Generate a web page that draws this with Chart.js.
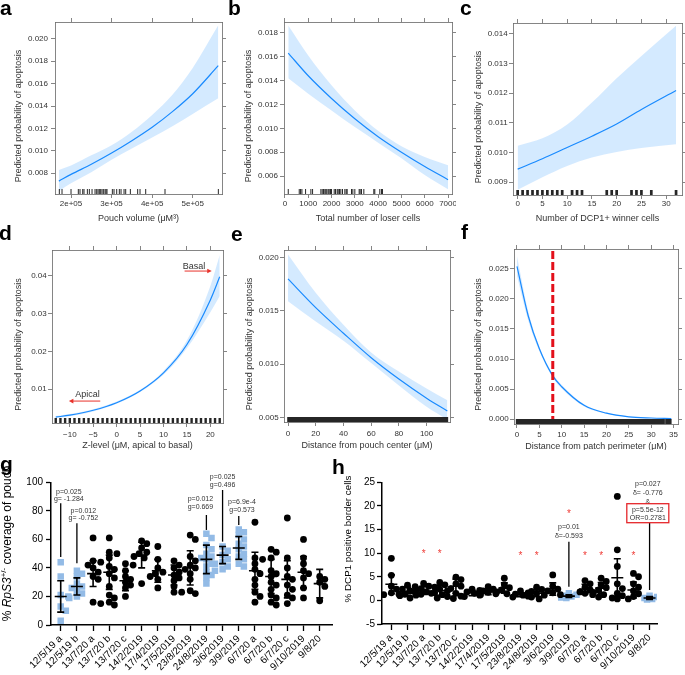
<!DOCTYPE html>
<html><head><meta charset="utf-8">
<script src="https://cdn.jsdelivr.net/npm/chart.js@4.4.1/dist/chart.umd.min.js"></script>
<style>
html,body{margin:0;padding:0;background:#fff;}
body{width:685px;height:675px;position:relative;overflow:hidden;font-family:"Liberation Sans",Arial,sans-serif;}
canvas.pn{position:absolute;display:block;}
.lt{position:absolute;z-index:5;font:bold 21px "Liberation Sans",Arial,sans-serif;line-height:21px;color:#000;}
</style></head><body>
<canvas class="pn" id="cA" style="left:0;top:0" width="228" height="225"></canvas>
<canvas class="pn" id="cB" style="left:228px;top:0" width="228" height="225"></canvas>
<canvas class="pn" id="cC" style="left:456px;top:0" width="229" height="225"></canvas>
<canvas class="pn" id="cD" style="left:0;top:225px" width="228" height="225"></canvas>
<canvas class="pn" id="cE" style="left:228px;top:225px" width="228" height="225"></canvas>
<canvas class="pn" id="cF" style="left:456px;top:225px" width="229" height="225"></canvas>
<canvas class="pn" id="cG" style="left:0;top:450px" width="340" height="225"></canvas>
<canvas class="pn" id="cH" style="left:340px;top:450px" width="345" height="225"></canvas>
<div class="lt" style="left:0px;top:-3px">a</div>
<div class="lt" style="left:228px;top:-3px">b</div>
<div class="lt" style="left:460px;top:-3px">c</div>
<div class="lt" style="left:-1px;top:222px">d</div>
<div class="lt" style="left:231px;top:223px">e</div>
<div class="lt" style="left:461px;top:221px">f</div>
<div class="lt" style="left:0px;top:453px">g</div>
<div class="lt" style="left:332px;top:456px">h</div>
<script>
const FONT = '"Liberation Sans", Arial, sans-serif';
Chart.defaults.font.family = FONT;
Chart.defaults.color = '#333';

const Y_TITLE = 'Predicted probability of apoptosis';

// ---------- panel a ----------
const A_X   = [170000, 200000, 250000, 300000, 350000, 400000, 450000, 500000, 563000];
const A_FIT = [0.0073, 0.0079, 0.0088, 0.0098, 0.0109, 0.0121, 0.0135, 0.0151, 0.0176];
const A_LO  = [0.0064, 0.0071, 0.0081, 0.0092, 0.0102, 0.0112, 0.0122, 0.0133, 0.0147];
const A_HI  = [0.0083, 0.0087, 0.0096, 0.0105, 0.0117, 0.0132, 0.0150, 0.0174, 0.0212];
const A_RUG = [171200, 177800, 200000, 218000, 222200, 228800, 232000, 240300, 245200, 251800, 259200, 263300, 266600, 269800, 273100, 276400, 279700, 283800, 286300, 288700, 301900, 306000, 312600, 319100, 323300, 330700, 334800, 346300, 364300, 370100, 384100, 431700, 563200];
const A_XTICKS = [200000, 300000, 400000, 500000];
const A_YTICKS = [0.008, 0.010, 0.012, 0.014, 0.016, 0.018, 0.020];

// ---------- panel b ----------
const B_X   = [143, 1000, 2000, 3000, 4000, 5000, 6000, 7000];
const B_FIT = [0.0163, 0.0144, 0.0125, 0.0108, 0.0093, 0.0080, 0.0068, 0.0057];
const B_LO  = [0.0142, 0.0129, 0.0115, 0.0101, 0.0088, 0.0075, 0.0061, 0.0049];
const B_HI  = [0.0186, 0.0161, 0.0136, 0.0115, 0.0098, 0.0085, 0.0076, 0.0069];
const B_RUG = [143, 614, 671, 729, 886, 1114, 1186, 1543, 1600, 1657, 1714, 1757, 1800, 1857, 1900, 1957, 2000, 2114, 2171, 2243, 2286, 2343, 2400, 2471, 2571, 2629, 2671, 2857, 2914, 3000, 3186, 3229, 3286, 3386, 3814, 3857, 4071, 4143, 4186];
const B_XTICKS = [0, 1000, 2000, 3000, 4000, 5000, 6000, 7000];
const B_YTICKS = [0.006, 0.008, 0.010, 0.012, 0.014, 0.016, 0.018];

// ---------- panel c ----------
const C_X   = [0, 5, 10, 15, 20, 25, 32];
const C_FIT = [0.00944, 0.00979, 0.01017, 0.01055, 0.01096, 0.01145, 0.01209];
const C_LO  = [0.00875, 0.00917, 0.00955, 0.00983, 0.01002, 0.01015, 0.01028];
const C_HI  = [0.01023, 0.01048, 0.01094, 0.01168, 0.01250, 0.01325, 0.01427];
const C_RUG = [0, 1, 2, 3, 4, 5, 6, 7, 8, 9, 11, 12, 13, 18, 19, 20, 23, 24, 25, 27, 32];
const C_XTICKS = [0, 5, 10, 15, 20, 25, 30];
const C_YTICKS = [0.009, 0.010, 0.011, 0.012, 0.013, 0.014];

// ---------- panel d ----------
const D_X   = [-13, -10, -5, 0, 5, 10, 15, 20, 22];
const D_FIT = [0.0026, 0.0031, 0.0044, 0.0064, 0.0095, 0.0143, 0.0218, 0.0336, 0.0397];
const D_LO  = [0.0023, 0.0028, 0.0041, 0.0061, 0.0092, 0.0138, 0.0208, 0.0303, 0.0346];
const D_HI  = [0.0029, 0.0034, 0.0047, 0.0067, 0.0098, 0.0148, 0.0229, 0.0373, 0.0455];
const D_RUG = [-13, -12, -11, -10, -9, -8, -7, -6, -5, -4, -3, -2, -1, 0, 1, 2, 3, 4, 5, 6, 7, 8, 9, 10, 11, 12, 13, 14, 15, 16, 17, 18, 19, 20, 21, 22];
const D_XTICKS = [-10, -5, 0, 5, 10, 15, 20];
const D_YTICKS = [0.01, 0.02, 0.03, 0.04];
const D_LABELS = [
  {text: 'Basal',  tx: 16.5, ty: 0.04255, from: 14.5, to: 20.3,  ay: 0.04123},
  {text: 'Apical', tx: -6.2, ty: 0.0085,  from: -3.5, to: -10.2, ay: 0.00683}
];

// ---------- panel e ----------
const E_X   = [0, 20, 40, 60, 80, 100, 115];
const E_FIT = [0.0180, 0.0153, 0.0129, 0.0106, 0.0086, 0.0068, 0.0056];
const E_LO  = [0.0159, 0.0140, 0.0122, 0.0101, 0.0080, 0.0060, 0.0048];
const E_HI  = [0.0203, 0.0167, 0.0137, 0.0111, 0.0093, 0.0077, 0.0066];
const E_RUG = [0,1,2,3,4,5,6,7,8,9,10,11,12,13,14,15,16,17,18,19,20,21,22,23,24,25,26,27,28,29,30,31,32,33,34,35,36,37,38,39,40,41,42,43,44,45,46,47,48,49,50,51,52,53,54,55,56,57,58,59,60,61,62,63,64,65,66,67,68,69,70,71,72,73,74,75,76,77,78,79,80,81,82,83,84,85,86,87,88,89,90,91,92,93,94,95,96,97,98,99,100,101,102,103,104,105,106,107,108,109,110,111,112,113,114,115];
const E_XTICKS = [0, 20, 40, 60, 80, 100];
const E_YTICKS = [0.005, 0.010, 0.015, 0.020];

// ---------- panel f ----------
const F_X   = [0, 2.5, 5, 8, 10, 15, 20, 25, 30, 34.5];
const F_FIT = [0.0254, 0.0172, 0.0117, 0.0072, 0.0054, 0.0023, 0.0010, 0.0004, 0.0002, 0.0001];
const F_LO  = [0.0238, 0.0164, 0.0113, 0.0069, 0.0051, 0.0021, 0.0009, 0.00035, 0.00015, 0.00008];
const F_HI  = [0.0271, 0.0180, 0.0121, 0.0075, 0.0057, 0.0025, 0.0011, 0.0005, 0.00025, 0.00012];
const F_RUG = [0,0.5,1,1.5,2,2.5,3,3.5,4,4.5,5,5.5,6,6.5,7,7.5,8,8.5,9,9.5,10,10.5,11,11.5,12,12.5,13,13.5,14,14.5,15,15.5,16,16.5,17,17.5,18,18.5,19,19.5,20,20.5,21,21.5,22,22.5,23,23.5,24,24.5,25,25.5,26,26.5,27,27.5,28,28.5,29,29.5,30,30.4,30.8,31.1,31.5,31.9,32.3,32.8,33.4,33.9,34.3];
const F_XTICKS = [0, 5, 10, 15, 20, 25, 30, 35];
const F_YTICKS = [0, 0.005, 0.010, 0.015, 0.020, 0.025];
const F_CUTOFF = 8;

// ---------- panels g / h ----------
const CATS = ['12/5/19 a','12/5/19 b','13/7/20 a','13/7/20 b','13/7/20 c','14/2/2019','17/4/2019','17/5/2019','23/8/2019','24/8/2019','3/6/2019','3/9/2019','6/7/20 a','6/7/20 b','6/7/20 c','9/10/2019','9/8/20'];

const G_VALUES = [
  [44, 34, 21, 20, 13, 10, 3],
  [38, 36, 34, 29, 27, 26, 24, 22, 20, 19],
  [61, 45, 44, 42, 40, 37, 34, 32, 16, 15],
  [61, 51, 50, 47, 41, 39, 36, 33, 27, 21, 19, 16, 14],
  [43, 42, 38, 34, 32, 30, 28, 26, 20],
  [59, 57, 54, 51, 50, 48, 47, 29],
  [55, 46, 40, 37, 36, 34, 32, 26],
  [45, 42, 40, 37, 35, 33, 31, 27, 23, 23],
  [63, 60, 48, 45, 42, 40, 39, 36, 32, 24, 22],
  [64, 61, 56, 53, 50, 48, 47, 46, 43, 41, 37, 35, 33, 29],
  [55, 52, 49, 46, 44, 43, 41, 39, 38],
  [67, 65, 63, 60, 57, 55, 53, 50, 48, 46, 43, 41],
  [72, 47, 46, 43, 39, 36, 32, 28, 23, 20, 16],
  [53, 51, 47, 38, 36, 34, 30, 28, 25, 21, 19, 16, 14],
  [75, 47, 40, 34, 32, 28, 25, 21, 19, 15],
  [60, 47, 43, 38, 36, 33, 26, 19],
  [34, 32, 30, 27, 17]
];
const G_MEAN = [20, 27, 36, 37, 31, 49, 38, 35, 40, 46, 49, 54, 38, 34, 32, 37, 29];
const G_SD   = [11, 6, 9, 12, 7, 9, 8, 7, 12, 10, 6, 8, 13, 12, 13, 11, 10];
const G_BLUE = [0, 1, 9, 10, 11];
const G_YTICKS = [0, 20, 40, 60, 80, 100];
const G_NOTES = [
  {cat: 0,  text: ['p=0.025', 'g= -1.284'], textY: [93.4, 88.1],  dx: 0.5,   from: 85.3, to: 47.7},
  {cat: 1,  text: ['p=0.012', 'g= -0.752'], textY: [80.1, 74.8],  dx: 0.4,   from: 71.3, to: 43.2},
  {cat: 9,  text: ['p=0.012', 'g=0.669'],   textY: [88.1, 82.5],  dx: -0.37, from: 77.1, to: 66.6},
  {cat: 10, text: ['p=0.025', 'g=0.496'],   textY: [103.5, 98.1], dx: 0,     from: 94.6, to: 58.4},
  {cat: 11, text: ['p=6.9e-4', 'g=0.573'],  textY: [86.4, 80.6],  dx: 0.2,   from: 76.4, to: 70.1}
];

const H_VALUES = [
  [8.9, 5.3, 3.0, 2.4, 1.6, 1.3, 1.2],
  [3.2, 2.9, 2.4, 2.0, 1.7, 1.3, 1.0, 0.5],
  [3.6, 3.0, 2.5, 2.2, 1.8, 1.5, 1.3, 1.1],
  [3.8, 3.3, 2.8, 2.4, 2.0, 1.6, 1.2, 0.8, 0.5],
  [4.9, 4.4, 3.5, 3.0, 2.5, 1.5, 0.9, 0.4],
  [2.4, 2.1, 1.8, 1.5, 1.1, 0.8],
  [2.9, 2.4, 2.0, 1.7, 1.4, 1.2],
  [4.7, 3.3, 2.7, 2.2, 1.8, 1.4],
  [2.0, 1.6, 1.3, 1.1, 0.9, 0.7],
  [2.8, 2.3, 1.9, 1.5, 1.1, 0.7, 0.3],
  [5.4, 3.0, 2.4, 2.0, 1.6, 1.2],
  [1.5, 1.2, 1.0, 0.8, 0.6, 0.5],
  [4.2, 3.5, 2.8, 2.2, 1.8, 1.5, 1.2],
  [4.7, 4.0, 3.3, 2.7, 2.2, 1.7, 1.2, 0.7],
  [22.0, 10.7, 7.2, 3.5, 2.5, 1.5, 1.0, 0.5, 0.3],
  [5.7, 5.0, 3.5, 2.8, 2.0, 1.4, 0.8, 0.3],
  [1.0, 0.7, 0.5, 0.3, 0.2]
];
const H_MEAN = [3.4, 1.9, 2.1, 2.1, 3.0, 1.6, 1.8, 2.6, 1.2, 1.5, 2.4, 0.9, 2.4, 2.6, 4.8, 2.2, 0.5];
const H_SD   = [2.0, 0.9, 0.8, 1.0, 1.5, 0.6, 0.6, 1.1, 0.4, 0.7, 1.3, 0.3, 1.0, 1.2, 4.0, 1.7, 0.3];
const H_BLUE = [11, 16];
const H_YTICKS = [-5, 0, 5, 10, 15, 20, 25];
const H_NOTES = [
  {cat: 11, text: ['p=0.01', 'δ=-0.593'], textY: [15.5, 13.6], dx: 0, from: 12.4, to: 2.9},
  {cat: 16, text: ['p=0.027', 'δ= -0.776', '&', 'p=5.5e-12', 'OR=0.2781'], textY: [24.7, 22.8, 20.9, 19.2, 17.4], dx: -0.11, from: 16.4, to: 2.2, boxFrom: 3}
];
const H_STARS = [{cat: 2, y: 10.5}, {cat: 3, y: 10.5}, {cat: 8, y: 10}, {cat: 9, y: 10}, {cat: 11, y: 18.8}, {cat: 12, y: 10}, {cat: 13, y: 10}, {cat: 15, y: 10}];

const useTicks = arr => sc => { sc.ticks = arr.map(v => ({value: v})); };

// ================= effect plots =================
function effectChart(id, d, s) {
  const cv = document.getElementById(id);
  const W = cv.width, H = cv.height;
  const band = 'rgba(0,128,255,0.17)';
  const xy = ys => d.x.map((x, i) => ({x, y: ys[i]}));
  const grid = {drawOnChartArea: false, drawTicks: true, tickLength: 4, color: '#666', tickColor: '#666', lineWidth: 0.8, tickWidth: 0.8};
  const border = {display: true, color: '#666', width: 0.8};
  const tickFont = {size: 8};
  const plugin = {
    id: 'effx',
    afterDatasetsDraw(chart) {
      const {ctx, chartArea: a, scales} = chart;
      const x = scales.x;
      ctx.save();
      ctx.strokeStyle = 'rgba(0,0,0,0.85)';
      ctx.lineWidth = s.rugW;
      ctx.beginPath();
      d.rug.forEach(v => { const px = x.getPixelForValue(v); ctx.moveTo(px, a.bottom); ctx.lineTo(px, a.bottom - 5); });
      ctx.stroke();
      ctx.restore();
      if (s.extra) s.extra(chart);
      ctx.save();
      ctx.fillStyle = '#333';
      ctx.font = '9px ' + FONT;
      ctx.translate(s.titleX, (a.top + a.bottom) / 2 + 8);
      ctx.rotate(-Math.PI / 2);
      ctx.textAlign = 'center';
      ctx.textBaseline = 'middle';
      ctx.fillText(Y_TITLE, 0, 0);
      ctx.restore();
    }
  };
  return new Chart(cv, {
    type: 'line',
    data: {datasets: [
      {data: xy(d.lo), xAxisID: 'x', yAxisID: 'y', borderWidth: 0, pointRadius: 0, fill: false, cubicInterpolationMode: 'monotone'},
      {data: xy(d.hi), xAxisID: 'x', yAxisID: 'y', borderWidth: 0, pointRadius: 0, fill: '-1', backgroundColor: band, cubicInterpolationMode: 'monotone'},
      {data: xy(d.fit), xAxisID: 'x', yAxisID: 'y', borderColor: '#1e8cff', borderWidth: 1.2, pointRadius: 0, fill: false, cubicInterpolationMode: 'monotone'}
    ]},
    options: {
      responsive: false, animation: false, events: [],
      layout: {padding: 0},
      plugins: {legend: {display: false}, tooltip: {enabled: false}},
      scales: {
        x: {type: 'linear', axis: 'x', position: 'bottom', min: s.xMin, max: s.xMax, grid, border,
            afterBuildTicks: useTicks(d.xt),
            ticks: {autoSkip: false, maxRotation: 0, minRotation: 0, padding: s.xPad, font: tickFont, color: '#333', callback: s.xFmt},
            title: {display: true, text: s.xTitle, font: {size: 9}, color: '#333', padding: {top: 0, bottom: s.xTitlePad}},
            afterFit: sc => { sc.height = H - s.area[3]; sc.paddingLeft = 0; sc.paddingRight = 0; }},
        x2: {type: 'linear', axis: 'x', position: 'top', min: s.xMin, max: s.xMax, grid, border,
            afterBuildTicks: useTicks(d.xt),
            ticks: {display: false},
            afterFit: sc => { sc.height = s.area[1]; sc.paddingLeft = 0; sc.paddingRight = 0; }},
        y: {type: 'linear', axis: 'y', position: 'left', min: s.yMin, max: s.yMax, grid, border,
            afterBuildTicks: useTicks(d.yt),
            ticks: {autoSkip: false, padding: s.yPad, font: tickFont, color: '#333', callback: s.yFmt},
            afterFit: sc => { sc.width = s.area[0]; sc.paddingTop = 0; sc.paddingBottom = 0; }},
        y2: {type: 'linear', axis: 'y', position: 'right', min: s.yMin, max: s.yMax, grid, border,
            afterBuildTicks: useTicks(d.yt),
            ticks: {display: false},
            afterFit: sc => { sc.width = W - s.area[2]; sc.paddingTop = 0; sc.paddingBottom = 0; }}
      }
    },
    plugins: [plugin]
  });
}

const plain = v => String(v);
const fix = n => v => v.toFixed(n);

effectChart('cA', {x: A_X, fit: A_FIT, lo: A_LO, hi: A_HI, rug: A_RUG, xt: A_XTICKS, yt: A_YTICKS},
  {area: [55, 22, 222, 194], xMin: 160500, xMax: 572200, yMin: 0.00615, yMax: 0.0215,
   xPad: 0.5, yPad: 3, xTitlePad: 1.3, titleX: 18.3, rugW: 1, xTitle: 'Pouch volume (\u03bcM\u00b3)',
   xFmt: v => (v / 100000) + 'e+05', yFmt: fix(3)});

effectChart('cB', {x: B_X, fit: B_FIT, lo: B_LO, hi: B_HI, rug: B_RUG, xt: B_XTICKS, yt: B_YTICKS},
  {area: [56, 22, 224, 194], xMin: -40, xMax: 7170, yMin: 0.0045, yMax: 0.0189,
   xPad: 1.2, yPad: 2, xTitlePad: 1.3, titleX: 20.7, rugW: 1, xTitle: 'Total number of loser cells',
   xFmt: plain, yFmt: fix(3)});

effectChart('cC', {x: C_X, fit: C_FIT, lo: C_LO, hi: C_HI, rug: C_RUG, xt: C_XTICKS, yt: C_YTICKS},
  {area: [57, 23, 226, 195], xMin: -0.94, xMax: 33.2, yMin: 0.00857, yMax: 0.01436,
   xPad: 0.2, yPad: 1.3, xTitlePad: 1.3, titleX: 22.7, rugW: 2.7, xTitle: 'Number of DCP1+ winner cells',
   xFmt: plain, yFmt: fix(3)});

function arrowLabels(chart) {
  const {ctx, scales: {x, y}} = chart;
  ctx.save();
  D_LABELS.forEach(l => {
    ctx.fillStyle = '#333';
    ctx.font = '9px ' + FONT;
    ctx.textAlign = 'center';
    ctx.textBaseline = 'middle';
    ctx.fillText(l.text, x.getPixelForValue(l.tx), y.getPixelForValue(l.ty));
    const x1 = x.getPixelForValue(l.from), x2 = x.getPixelForValue(l.to), py = y.getPixelForValue(l.ay);
    const dir = Math.sign(x2 - x1);
    ctx.strokeStyle = '#e8322b'; ctx.fillStyle = '#e8322b'; ctx.lineWidth = 1;
    ctx.beginPath(); ctx.moveTo(x1, py); ctx.lineTo(x2 - dir * 3, py); ctx.stroke();
    ctx.beginPath(); ctx.moveTo(x2, py); ctx.lineTo(x2 - dir * 4.5, py - 2.3); ctx.lineTo(x2 - dir * 4.5, py + 2.3); ctx.closePath(); ctx.fill();
  });
  ctx.restore();
}

effectChart('cD', {x: D_X, fit: D_FIT, lo: D_LO, hi: D_HI, rug: D_RUG, xt: D_XTICKS, yt: D_YTICKS},
  {area: [52, 25, 223, 198], xMin: -13.8, xMax: 22.7, yMin: 0.00103, yMax: 0.0468,
   xPad: 2.5, yPad: 1.3, xTitlePad: -1.1, titleX: 18.3, rugW: 2.4, xTitle: 'Z-level (\u03bcM, apical to basal)',
   xFmt: v => v < 0 ? '\u2212' + Math.abs(v) : String(v), yFmt: fix(2), extra: arrowLabels});

effectChart('cE', {x: E_X, fit: E_FIT, lo: E_LO, hi: E_HI, rug: E_RUG, xt: E_XTICKS, yt: E_YTICKS},
  {area: [56, 25, 222, 197], xMin: -2.9, xMax: 116.9, yMin: 0.00456, yMax: 0.02072,
   xPad: 2.5, yPad: 1.3, xTitlePad: -1.1, titleX: 21.7, rugW: 1.6, xTitle: 'Distance from pouch center (\u03bcM)',
   xFmt: plain, yFmt: fix(3)});

function cutoffLine(chart) {
  const {ctx, chartArea: a, scales: {x}} = chart;
  const px = x.getPixelForValue(F_CUTOFF);
  ctx.save();
  ctx.strokeStyle = '#e3101b'; ctx.lineWidth = 3; ctx.setLineDash([8, 3]);
  ctx.beginPath(); ctx.moveTo(px, a.top + 2); ctx.lineTo(px, a.bottom - 5); ctx.stroke();
  ctx.restore();
}

effectChart('cF', {x: F_X, fit: F_FIT, lo: F_LO, hi: F_HI, rug: F_RUG, xt: F_XTICKS, yt: F_YTICKS},
  {area: [58, 24, 222, 199], xMin: -0.67, xMax: 36, yMin: -0.0008, yMax: 0.0283,
   xPad: 1.5, yPad: 1.3, xTitlePad: -2.1, titleX: 22.7, rugW: 2.4, xTitle: 'Distance from patch perimeter (\u03bcM)',
   xFmt: plain, yFmt: fix(3), extra: cutoffLine});

// ================= dot plots =================
function swarm(chart, r) {
  const xs = chart.scales.x, ys = chart.scales.y;
  const placed = {};
  chart.data.datasets.forEach(ds => {
    ds.data.forEach(p => {
      const cx = xs.getPixelForValue(p.c), py = ys.getPixelForValue(p.y);
      const list = placed[p.c] || (placed[p.c] = []);
      const step = r * 0.75;
      const cands = [0];
      for (let k = 1; k * step <= r * 2.3; k++) cands.push(k * step, -k * step);
      let best = 0, bestScore = -1;
      for (const o of cands) {
        const sc = list.reduce((m, q) => Math.min(m, Math.hypot(q.x - (cx + o), q.y - py)), Infinity);
        if (sc >= r * 1.6) { best = o; break; }
        if (sc > bestScore) { bestScore = sc; best = o; }
      }
      list.push({x: cx + best, y: py});
      p.x = xs.getValueForPixel(cx + best);
    });
  });
  chart.update('none');
}

function drawRichV(ctx, segs, cx, cy) {
  ctx.save();
  ctx.translate(cx, cy);
  ctx.rotate(-Math.PI / 2);
  let total = 0;
  segs.forEach(sg => { ctx.font = sg.font; sg.w = ctx.measureText(sg.t).width; total += sg.w; });
  let x = -total / 2;
  ctx.fillStyle = '#000'; ctx.textAlign = 'left'; ctx.textBaseline = 'middle';
  segs.forEach(sg => { ctx.font = sg.font; ctx.fillText(sg.t, x, sg.dy || 0); x += sg.w; });
  ctx.restore();
}

function dotChart(id, vals, blue, mean, sd, notes, stars, yt, s) {
  const cv = document.getElementById(id);
  const W = cv.width, H = cv.height;
  const black = [], blues = [];
  vals.forEach((arr, c) => arr.forEach(v => (blue.includes(c) ? blues : black).push({x: c, y: v, c})));
  const plugin = {
    id: 'dots',
    afterDatasetsDraw(chart) {
      const {ctx, scales: {x, y}} = chart;
      ctx.save();
      ctx.strokeStyle = '#000'; ctx.lineWidth = 1.6;
      ctx.beginPath();
      mean.forEach((m, i) => {
        const cx = x.getPixelForValue(i), ym = y.getPixelForValue(m);
        const yt = y.getPixelForValue(m + sd[i]), yb = y.getPixelForValue(m - sd[i]);
        ctx.moveTo(cx - 6, ym); ctx.lineTo(cx + 6, ym);
        ctx.moveTo(cx, yt); ctx.lineTo(cx, yb);
        ctx.moveTo(cx - 3.5, yt); ctx.lineTo(cx + 3.5, yt);
        ctx.moveTo(cx - 3.5, yb); ctx.lineTo(cx + 3.5, yb);
      });
      ctx.stroke();
      notes.forEach(n => {
        const cx = x.getPixelForValue(n.cat);
        ctx.strokeStyle = '#000'; ctx.lineWidth = 1.3;
        ctx.beginPath(); ctx.moveTo(cx, y.getPixelForValue(n.from)); ctx.lineTo(cx, y.getPixelForValue(n.to)); ctx.stroke();
        const tx = x.getPixelForValue(n.cat + n.dx);
        ctx.font = '7px ' + FONT; ctx.fillStyle = '#333'; ctx.textAlign = 'center'; ctx.textBaseline = 'middle';
        let maxW = 0;
        n.text.forEach((t, k) => {
          ctx.fillText(t, tx, y.getPixelForValue(n.textY[k]));
          if (n.boxFrom !== undefined && k >= n.boxFrom) maxW = Math.max(maxW, ctx.measureText(t).width);
        });
        if (n.boxFrom !== undefined) {
          const top = y.getPixelForValue(n.textY[n.boxFrom]) - 6;
          const bot = y.getPixelForValue(n.textY[n.text.length - 1]) + 4.5;
          ctx.strokeStyle = '#e5262b'; ctx.lineWidth = 1.3;
          ctx.strokeRect(tx - maxW / 2 - 3, top, maxW + 6, bot - top);
        }
      });
      ctx.fillStyle = '#ef3b36'; ctx.font = '10px ' + FONT; ctx.textAlign = 'center'; ctx.textBaseline = 'alphabetic';
      stars.forEach(st => ctx.fillText('*', x.getPixelForValue(st.cat), y.getPixelForValue(st.y) + 5.8));
      ctx.restore();
      drawRichV(ctx, s.title, s.titleX, s.titleY);
    }
  };
  const chart = new Chart(cv, {
    type: 'scatter',
    data: {datasets: [
      {data: black, pointStyle: 'circle', pointRadius: 3.4, backgroundColor: '#000', borderWidth: 0},
      {data: blues, pointStyle: 'rect', pointRadius: 4.6, backgroundColor: '#93bbe6', borderWidth: 0}
    ]},
    options: {
      responsive: false, animation: false, events: [],
      layout: {padding: {top: s.area[1], right: W - s.area[2], left: 0, bottom: 0}},
      plugins: {legend: {display: false}, tooltip: {enabled: false}},
      scales: {
        x: {type: 'linear', min: s.xMin, max: s.xMax,
            grid: {drawOnChartArea: false, drawTicks: true, tickLength: 6, tickColor: '#000', tickWidth: 1.3},
            border: {display: true, color: '#000', width: 1.5},
            afterBuildTicks: useTicks(CATS.map((c, i) => i)),
            ticks: {autoSkip: false, minRotation: 45, maxRotation: 45, padding: s.xPad, font: {size: 10}, color: '#000',
                    callback: v => (CATS[v] !== undefined ? CATS[v] : '')},
            afterFit: sc => { sc.height = H - s.area[3]; sc.paddingLeft = 0; sc.paddingRight = 0; }},
        y: {type: 'linear', min: s.yMin, max: s.yMax,
            grid: {drawOnChartArea: false, drawTicks: true, tickLength: 5, tickColor: '#000', tickWidth: 1.3},
            border: {display: true, color: '#000', width: 1.5},
            afterBuildTicks: useTicks(yt),
            ticks: {autoSkip: false, padding: s.yPad, font: {size: 10}, color: '#000'},
            afterFit: sc => { sc.width = s.area[0]; sc.paddingTop = 0; sc.paddingBottom = 0; }}
      }
    },
    plugins: [plugin]
  });
  swarm(chart, 3.4);
  return chart;
}

dotChart('cG', G_VALUES, G_BLUE, G_MEAN, G_SD, G_NOTES, [], G_YTICKS,
  {area: [51, 32.3, 332, 175], xMin: -0.6, xMax: 16.76, yMin: 0, yMax: 100, xPad: 2, yPad: 3,
   titleX: 7.5, titleY: 93.5,
   title: [{t: '% ', font: '12px ' + FONT}, {t: 'RpS3', font: 'italic 12px ' + FONT}, {t: '+/-', font: '8px ' + FONT, dy: -4}, {t: ' coverage of pouch', font: '12px ' + FONT}]});

dotChart('cH', H_VALUES, H_BLUE, H_MEAN, H_SD, H_NOTES, H_STARS, H_YTICKS,
  {area: [42, 32.3, 317, 174], xMin: -0.58, xMax: 16.46, yMin: -5, yMax: 25, xPad: 2, yPad: 2,
   titleX: 8.3, titleY: 89,
   title: [{t: '% DCP1 positive border cells', font: '9.8px ' + FONT}]});
</script>
</body></html>
